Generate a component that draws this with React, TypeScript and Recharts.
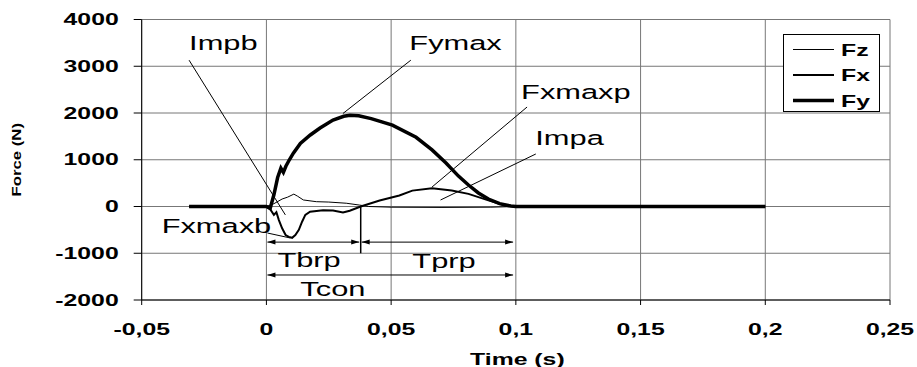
import {
  LineChart,
  Line,
  XAxis,
  YAxis,
  CartesianGrid,
  ReferenceLine,
  ReferenceDot,
  Legend,
} from "recharts";

const FONT = '"Liberation Sans", Arial, sans-serif';

const timeTicks = [-0.05, 0, 0.05, 0.1, 0.15, 0.2, 0.25];
const forceTicks = [-2000, -1000, 0, 1000, 2000, 3000, 4000];

const fzTime = [-0.031, 0, 0.003, 0.0063, 0.0085, 0.011, 0.0125, 0.0148, 0.02, 0.025, 0.032, 0.0374, 0.041, 0.05, 0.07, 0.09, 0.1, 0.2];
const fzForce = [0, 0, 60, 160, 200, 265, 220, 140, 103, 95, 70, 30, 0, -15, -20, -15, 0, 0];

const fxTime = [-0.031, 0, 0.0015, 0.003, 0.004, 0.005, 0.0063, 0.0077, 0.009, 0.0103, 0.0116, 0.013, 0.0143, 0.0156, 0.0175, 0.0227, 0.0267, 0.0307, 0.0334, 0.0378, 0.0454, 0.0533, 0.0585, 0.0664, 0.0743, 0.081, 0.089, 0.0957, 0.1, 0.2];
const fxForce = [0, 0, -60, -180, -120, -290, -466, -610, -650, -670, -610, -500, -325, -180, -110, -80, -85, -130, -90, 0, 130, 235, 340, 390, 340, 270, 130, 20, 0, 0];

const fyTime = [-0.031, 0, 0.0015, 0.003, 0.0045, 0.0058, 0.0068, 0.0078, 0.0092, 0.0108, 0.0136, 0.0176, 0.0215, 0.0267, 0.031, 0.0335, 0.037, 0.042, 0.0505, 0.06, 0.0664, 0.072, 0.077, 0.081, 0.085, 0.089, 0.0935, 0.098, 0.1, 0.2];
const fyForce = [0, 0, -40, 250, 620, 820, 730, 860, 1000, 1140, 1350, 1530, 1680, 1850, 1930, 1950, 1940, 1880, 1740, 1480, 1210, 930, 650, 460, 290, 160, 60, 10, 0, 0];

// phase boundaries (s)
const brakeEnd = 0.0378;
const contactEnd = 0.0995;

const toPoints = (time: number[], force: number[]) =>
  time.map((t, i) => ({ t, f: force[i] }));

const series = [
  { name: "Fz", data: toPoints(fzTime, fzForce), width: 1 },
  { name: "Fx", data: toPoints(fxTime, fxForce), width: 2 },
  { name: "Fy", data: toPoints(fyTime, fyForce), width: 3.5 },
];

// callouts: label anchor and pointer line, in data units
const callouts = [
  { text: "Impb", at: [-0.031, 3337], from: [-0.031, 3130], to: [0.0076, -180] },
  { text: "Fymax", at: [0.0573, 3337], from: [0.0579, 3130], to: [0.0307, 1990] },
  { text: "Fxmaxp", at: [0.1021, 2300], from: [0.1045, 2128], to: [0.0664, 417] },
  { text: "Impa", at: [0.1078, 1316], from: [0.108, 1123], to: [0.0698, 139] },
  { text: "Fxmaxb", at: [-0.042, -567], from: [0.0004, -567], to: [0.0096, -674] },
];

const spans = [
  { text: "Tbrp", from: 0, to: brakeEnd, level: -762, labelAt: [0.0044, -1300] },
  { text: "Tprp", from: brakeEnd, to: contactEnd, level: -762, labelAt: [0.0585, -1305] },
  { text: "Tcon", from: 0, to: contactEnd, level: -1465, labelAt: [0.0136, -1914] },
];

function StretchText({ x, y, size, bold, anchor = "start", sx = 1.55, children }: any) {
  return (
    <text
      transform={`translate(${x},${y}) scale(${sx},1)`}
      textAnchor={anchor}
      fontFamily={FONT}
      fontSize={size}
      fontWeight={bold ? "bold" : "normal"}
      fill="#000"
    >
      {children}
    </text>
  );
}

const fmtTime = (v: number) => String(v).replace(".", ",");

function TimeTick(props: any) {
  const { x, y, payload } = props;
  return (
    <StretchText x={x} y={y + 27.5} size={16} bold anchor="middle">
      {fmtTime(payload.value)}
    </StretchText>
  );
}

function ForceTick(props: any) {
  const { x, y, payload } = props;
  return (
    <StretchText x={x} y={y + 5.7} size={16} bold anchor="end">
      {payload.value}
    </StretchText>
  );
}

const arrowShape = (p: any) => {
  const { x1, y1, x2 } = p;
  const a = Math.min(x1, x2) + 1;
  const b = Math.max(x1, x2) - 1.5;
  const y = y1;
  return (
    <g>
      <line x1={a} y1={y} x2={b} y2={y} stroke="#000" strokeWidth={1} />
      <polygon points={`${a},${y} ${a + 8},${y - 2.5} ${a + 8},${y + 2.5}`} fill="#000" />
      <polygon points={`${b},${y} ${b - 8},${y - 2.5} ${b - 8},${y + 2.5}`} fill="#000" />
    </g>
  );
};

const labelShape = (text: string) => (p: any) => (
  <StretchText x={p.cx} y={p.cy} size={19.5} sx={1.58}>
    {text}
  </StretchText>
);

function LegendBox() {
  const rows = series.map((s, i) => ({ ...s, y: 15.5 + i * 25.5 }));
  return (
    <svg width={98} height={79} style={{ display: "block" }}>
      <rect x={0.5} y={0.5} width={96} height={77} fill="#fff" stroke="#000" />
      {rows.map((r) => (
        <g key={r.name}>
          <line x1={10} y1={r.y} x2={51} y2={r.y} stroke="#000" strokeWidth={r.width} />
          <StretchText x={58} y={r.y + 6} size={16} bold>
            {r.name}
          </StretchText>
        </g>
      ))}
    </svg>
  );
}

export default function App() {
  return (
    <div style={{ position: "absolute", left: 0, top: 0, background: "#fff" }}>
      <LineChart width={917} height={367} margin={{ top: 19.5, right: 27, bottom: 0, left: 0 }}>
        <CartesianGrid stroke="#777" strokeWidth={1} />
        <XAxis
          type="number"
          dataKey="t"
          domain={[-0.05, 0.25]}
          ticks={timeTicks}
          allowDataOverflow
          height={67}
          tickSize={5}
          tickMargin={2}
          axisLine={{ stroke: "#000" }}
          tickLine={{ stroke: "#000" }}
          tick={<TimeTick />}
          label={(props: any) => {
            const vb = props.viewBox;
            return (
              <StretchText x={vb.x + vb.width / 2 + 1.5} y={vb.y + 65} size={16} bold anchor="middle">
                Time (s)
              </StretchText>
            );
          }}
        />
        <YAxis
          type="number"
          dataKey="f"
          domain={[-2000, 4000]}
          ticks={forceTicks}
          allowDataOverflow
          width={141.7}
          tickSize={8}
          tickMargin={15}
          axisLine={{ stroke: "#000" }}
          tickLine={{ stroke: "#000" }}
          tick={<ForceTick />}
          label={(props: any) => {
            const vb = props.viewBox;
            return (
              <text
                transform={`translate(${vb.x + 21},${vb.y + vb.height / 2}) rotate(-90) scale(1.4,1)`}
                textAnchor="middle"
                fontFamily={FONT}
                fontSize={12}
                fontWeight="bold"
                fill="#000"
              >
                Force (N)
              </text>
            );
          }}
        />
        {series.map((s) => (
          <Line
            key={s.name}
            data={s.data}
            dataKey="f"
            name={s.name}
            type="linear"
            stroke="#000"
            strokeWidth={s.width}
            dot={false}
            activeDot={false}
            isAnimationActive={false}
          />
        ))}
        {callouts.map((c) => (
          <ReferenceLine
            key={"l" + c.text}
            segment={[
              { x: c.from[0], y: c.from[1] },
              { x: c.to[0], y: c.to[1] },
            ]}
            stroke="#000"
            strokeWidth={1}
            ifOverflow="visible"
          />
        ))}
        {callouts.map((c) => (
          <ReferenceDot
            key={"t" + c.text}
            x={c.at[0]}
            y={c.at[1]}
            ifOverflow="visible"
            shape={labelShape(c.text)}
          />
        ))}
        <ReferenceLine
          segment={[
            { x: brakeEnd, y: 0 },
            { x: brakeEnd, y: -1000 },
          ]}
          stroke="#000"
          strokeWidth={1.5}
          ifOverflow="visible"
        />
        {spans.map((s) => (
          <ReferenceLine
            key={"s" + s.text}
            segment={[
              { x: s.from, y: s.level },
              { x: s.to, y: s.level },
            ]}
            ifOverflow="visible"
            shape={arrowShape}
          />
        ))}
        {spans.map((s) => (
          <ReferenceDot
            key={"st" + s.text}
            x={s.labelAt[0]}
            y={s.labelAt[1]}
            ifOverflow="visible"
            shape={labelShape(s.text)}
          />
        ))}
        <Legend
          layout="vertical"
          align="center"
          verticalAlign="middle"
          wrapperStyle={{ left: 783, top: 34, width: 98, height: 79 }}
          content={() => <LegendBox />}
        />
      </LineChart>
    </div>
  );
}
